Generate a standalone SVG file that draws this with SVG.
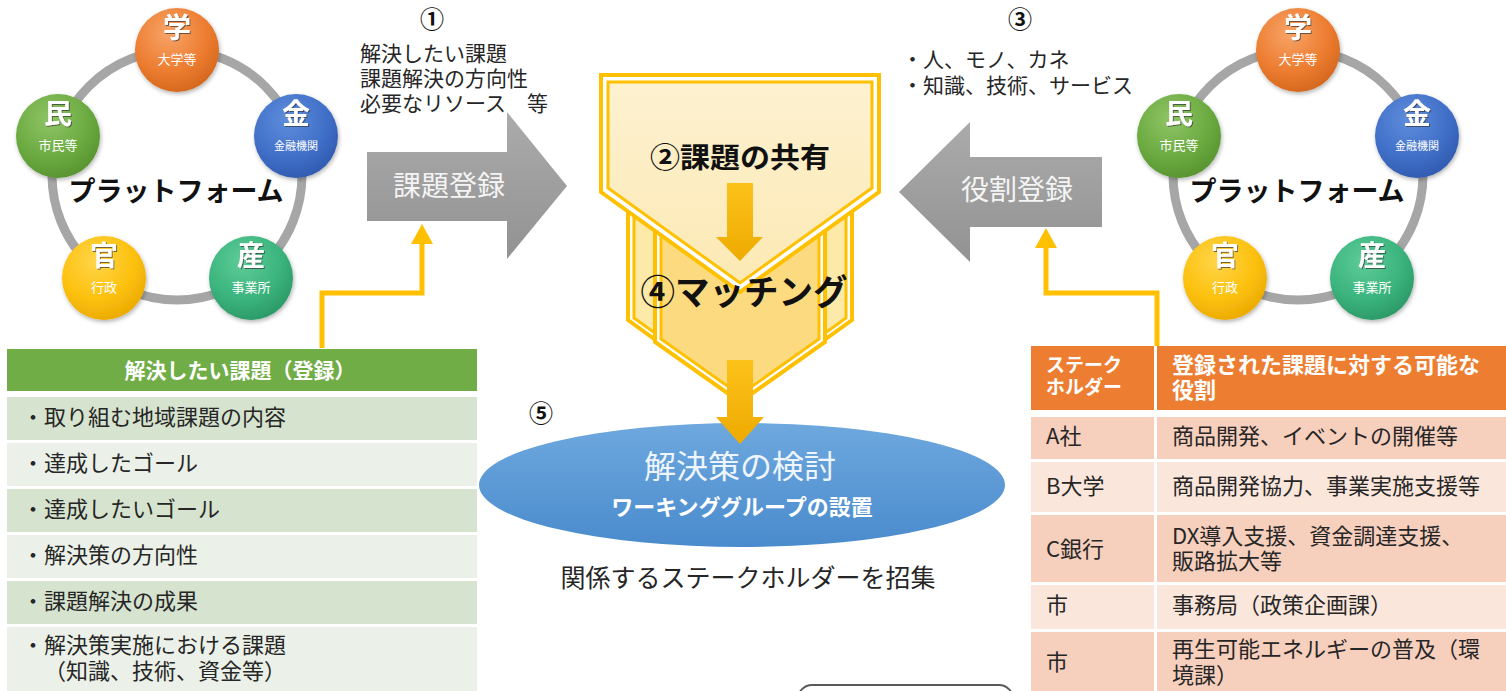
<svg xmlns="http://www.w3.org/2000/svg" width="1506" height="691" viewBox="0 0 1506 691">
<defs>
<style>
text{font-family:"Noto Sans CJK JP","Noto Sans CJK SC",sans-serif;}
.ring{fill:none;stroke:#a6a6a6;stroke-width:9;}
.big{font-size:28px;font-weight:bold;fill:#ffffff;text-anchor:middle;filter:url(#ts);}
.sm{font-size:13px;fill:#ffffff;text-anchor:middle;}
.pf{font-size:27px;font-weight:bold;fill:#111111;text-anchor:middle;}
.note{font-size:21px;fill:#262626;}
.num{font-size:24px;font-weight:bold;fill:#111111;text-anchor:middle;}
.garrow{fill:url(#gg);}
.gtxt{font-size:28px;fill:#f4f4f4;text-anchor:middle;}
.row{font-size:22px;fill:#262626;}
.conn{fill:none;stroke:#ffc000;stroke-width:5;}
.chev-out{fill:#ffffff;stroke:#ffc000;stroke-width:4;stroke-linejoin:miter;}
.chev-in{stroke:#ffc000;stroke-width:3;stroke-linejoin:miter;}
</style>
<radialGradient id="gOr" cx="0.4" cy="0.3" r="0.75"><stop offset="0" stop-color="#f7a468"/><stop offset="0.6" stop-color="#ed7d31"/><stop offset="1" stop-color="#d2661c"/></radialGradient>
<radialGradient id="gGr" cx="0.4" cy="0.3" r="0.75"><stop offset="0" stop-color="#8fc466"/><stop offset="0.6" stop-color="#6cab41"/><stop offset="1" stop-color="#56922f"/></radialGradient>
<radialGradient id="gBl" cx="0.4" cy="0.3" r="0.75"><stop offset="0" stop-color="#5f8ddc"/><stop offset="0.6" stop-color="#4170c8"/><stop offset="1" stop-color="#2f5aae"/></radialGradient>
<radialGradient id="gYe" cx="0.4" cy="0.3" r="0.75"><stop offset="0" stop-color="#ffd54a"/><stop offset="0.6" stop-color="#fcc10e"/><stop offset="1" stop-color="#e9a800"/></radialGradient>
<radialGradient id="gTe" cx="0.4" cy="0.3" r="0.75"><stop offset="0" stop-color="#5fcc98"/><stop offset="0.6" stop-color="#3bb47d"/><stop offset="1" stop-color="#2a9765"/></radialGradient>
<linearGradient id="gg" x1="0" y1="0" x2="0" y2="1"><stop offset="0" stop-color="#ababab"/><stop offset="1" stop-color="#929292"/></linearGradient>
<linearGradient id="gEl" x1="0" y1="0" x2="0" y2="1"><stop offset="0" stop-color="#6ea8de"/><stop offset="1" stop-color="#4a8bcd"/></linearGradient>
<linearGradient id="gAr" x1="0" y1="0" x2="0" y2="1"><stop offset="0" stop-color="#fcc21a"/><stop offset="1" stop-color="#eeaa00"/></linearGradient>
<linearGradient id="gS1" x1="0" y1="0" x2="0" y2="1"><stop offset="0" stop-color="#fdf1d0"/><stop offset="1" stop-color="#fce9b4"/></linearGradient>
<filter id="sh" x="-20%" y="-20%" width="140%" height="140%"><feDropShadow dx="1" dy="2" stdDeviation="2" flood-color="#000" flood-opacity="0.3"/></filter>
<filter id="ts" x="-20%" y="-20%" width="140%" height="140%"><feDropShadow dx="1" dy="1" stdDeviation="0.6" flood-color="#333" flood-opacity="0.7"/></filter>
</defs>

<!-- Left platform -->
<g id="platform-left">
<circle class="ring" cx="177" cy="175" r="125"/>
<circle cx="177" cy="50" r="42" fill="url(#gOr)" filter="url(#sh)"/>
<text class="big" x="177" y="38">学</text><text class="sm" x="177" y="64">大学等</text>
<circle cx="296" cy="136" r="42" fill="url(#gBl)" filter="url(#sh)"/>
<text class="big" x="296" y="124">金</text><text class="sm" x="296" y="150" style="font-size:11px">金融機関</text>
<circle cx="58" cy="136" r="42" fill="url(#gGr)" filter="url(#sh)"/>
<text class="big" x="58" y="124">民</text><text class="sm" x="58" y="150">市民等</text>
<circle cx="104" cy="278" r="42" fill="url(#gYe)" filter="url(#sh)"/>
<text class="big" x="104" y="266">官</text><text class="sm" x="104" y="292">行政</text>
<circle cx="251" cy="278" r="42" fill="url(#gTe)" filter="url(#sh)"/>
<text class="big" x="251" y="266">産</text><text class="sm" x="251" y="292">事業所</text>
<text class="pf" x="176" y="201">プラットフォーム</text>
</g>

<!-- Right platform -->
<g id="platform-right">
<circle class="ring" cx="1298" cy="175" r="125"/>
<circle cx="1298" cy="50" r="42" fill="url(#gOr)" filter="url(#sh)"/>
<text class="big" x="1298" y="38">学</text><text class="sm" x="1298" y="64">大学等</text>
<circle cx="1417" cy="136" r="42" fill="url(#gBl)" filter="url(#sh)"/>
<text class="big" x="1417" y="124">金</text><text class="sm" x="1417" y="150" style="font-size:11px">金融機関</text>
<circle cx="1179" cy="136" r="42" fill="url(#gGr)" filter="url(#sh)"/>
<text class="big" x="1179" y="124">民</text><text class="sm" x="1179" y="150">市民等</text>
<circle cx="1225" cy="278" r="42" fill="url(#gYe)" filter="url(#sh)"/>
<text class="big" x="1225" y="266">官</text><text class="sm" x="1225" y="292">行政</text>
<circle cx="1372" cy="278" r="42" fill="url(#gTe)" filter="url(#sh)"/>
<text class="big" x="1372" y="266">産</text><text class="sm" x="1372" y="292">事業所</text>
<text class="pf" x="1297" y="201">プラットフォーム</text>
</g>

<!-- Step 1 note -->
<g id="note-1">
<text class="num" x="432" y="28">①</text>
<text class="note" x="360" y="61">解決したい課題</text>
<text class="note" x="360" y="86">課題解決の方向性</text>
<text class="note" x="360" y="111">必要なリソース　等</text>
</g>

<!-- Step 3 note -->
<g id="note-3">
<text class="num" x="1020" y="28">③</text>
<text class="note" x="902" y="67">・人、モノ、カネ</text>
<text class="note" x="902" y="93">・知識、技術、サービス</text>
</g>

<!-- Gray arrows -->
<g id="arrow-kadai">
<path class="garrow" d="M367,152 H507 V112 L567,186 L507,259 V221 H367 Z"/>
<text class="gtxt" x="449" y="196">課題登録</text>
</g>
<g id="arrow-yakuwari">
<path class="garrow" d="M1102,157 H970 V122 L899,192 L970,262 V227 H1102 Z"/>
<text class="gtxt" x="1017" y="200">役割登録</text>
</g>

<!-- Center chevrons -->
<g id="chevrons">
<path class="chev-out" d="M628,200 H852 V320 L740,401 L628,320 Z"/>
<path class="chev-in" fill="#fde9a8" d="M634,206 H846 V318 L740,394 L634,318 Z"/>
<path class="chev-out" d="M655,228 H825 V342 L740,402 L655,342 Z"/>
<path class="chev-in" fill="#fcdb80" d="M661,234 H819 V339 L740,395 L661,339 Z"/>
<path class="chev-out" d="M601,75 H879 V192 L740,292 L601,192 Z"/>
<path class="chev-in" fill="url(#gS1)" d="M608,82 H872 V188 L740,283 L608,188 Z"/>
<path fill="url(#gAr)" d="M727,183 H753 V237 H763 L740,261 L716,237 H727 Z"/>
<text x="740" y="168" text-anchor="middle" font-size="28" font-weight="bold" fill="#111" textLength="180" lengthAdjust="spacingAndGlyphs">②課題の共有</text>
<text x="744" y="305" text-anchor="middle" font-size="35" font-weight="bold" fill="#111" textLength="207" lengthAdjust="spacingAndGlyphs">④マッチング</text>
</g>

<!-- Ellipse node -->
<g id="solution">
<ellipse cx="742" cy="485" rx="263" ry="62" fill="url(#gEl)"/>
<text x="740" y="478" text-anchor="middle" font-size="32" fill="#eef5fc">解決策の検討</text>
<text x="742" y="515" text-anchor="middle" font-size="22" font-weight="bold" fill="#ffffff">ワーキンググループの設置</text>
</g>
<text class="num" x="541" y="422">⑤</text>
<text x="748" y="587" text-anchor="middle" font-size="25" fill="#262626">関係するステークホルダーを招集</text>

<!-- Bottom partial box -->
<g id="bottom-box">
<rect x="798" y="685" width="215" height="30" rx="14" fill="#ffffff" stroke="#5a5a5a" stroke-width="2"/>
</g>

<!-- Connectors -->
<g id="connectors">
<path class="conn" d="M322,348 V293 H422 V242"/>
<polygon fill="#ffc000" points="411,244 433,244 422,224"/>
<path class="conn" d="M1157,346 V293 H1046 V246"/>
<polygon fill="#ffc000" points="1035,248 1057,248 1046,228"/>
<path fill="url(#gAr)" d="M727,360 H753 V417 H764 L740,444 L716,417 H727 Z"/>
</g>

<!-- Left table -->
<g id="table-left">
<rect x="7" y="349" width="470" height="42" fill="#70ad47"/>
<text x="240" y="378" text-anchor="middle" font-size="21" font-weight="bold" fill="#ffffff">解決したい課題（登録）</text>
<rect x="7" y="397" width="470" height="43" fill="#d6e3cf"/>
<rect x="7" y="443" width="470" height="43" fill="#ebf1e8"/>
<rect x="7" y="489" width="470" height="43" fill="#d6e3cf"/>
<rect x="7" y="535" width="470" height="43" fill="#ebf1e8"/>
<rect x="7" y="581" width="470" height="43" fill="#d6e3cf"/>
<rect x="7" y="627" width="470" height="64" fill="#ebf1e8"/>
<text class="row" x="22" y="425">・取り組む地域課題の内容</text>
<text class="row" x="22" y="471">・達成したゴール</text>
<text class="row" x="22" y="517">・達成したいゴール</text>
<text class="row" x="22" y="563">・解決策の方向性</text>
<text class="row" x="22" y="609">・課題解決の成果</text>
<text class="row" x="22" y="653">・解決策実施における課題</text>
<text class="row" x="44" y="679">（知識、技術、資金等）</text>
</g>

<!-- Right table -->
<g id="table-right">
<rect x="1031" y="346" width="475" height="64" fill="#ed7d31"/>
<rect x="1031" y="417" width="475" height="42" fill="#f7cfbd"/>
<rect x="1031" y="462" width="475" height="50" fill="#fbe6dc"/>
<rect x="1031" y="515" width="475" height="67" fill="#f7cfbd"/>
<rect x="1031" y="585" width="475" height="44" fill="#fbe6dc"/>
<rect x="1031" y="632" width="475" height="59" fill="#f7cfbd"/>
<rect x="1154" y="346" width="3" height="345" fill="#ffffff"/>
<text x="1046" y="372" font-size="19" font-weight="bold" fill="#ffffff">ステーク</text>
<text x="1046" y="394" font-size="19" font-weight="bold" fill="#ffffff">ホルダー</text>
<text x="1172" y="373" font-size="22" font-weight="bold" fill="#ffffff">登録された課題に対する可能な</text>
<text x="1172" y="398" font-size="22" font-weight="bold" fill="#ffffff">役割</text>
<text class="row" x="1046" y="444">A社</text>
<text class="row" x="1172" y="444">商品開発、イベントの開催等</text>
<text class="row" x="1046" y="494">B大学</text>
<text class="row" x="1172" y="494">商品開発協力、事業実施支援等</text>
<text class="row" x="1046" y="557">C銀行</text>
<text class="row" x="1172" y="544">DX導入支援、資金調達支援、</text>
<text class="row" x="1172" y="569">販路拡大等</text>
<text class="row" x="1046" y="613">市</text>
<text class="row" x="1172" y="613">事務局（政策企画課）</text>
<text class="row" x="1046" y="670">市</text>
<text class="row" x="1172" y="657">再生可能エネルギーの普及（環</text>
<text class="row" x="1172" y="683">境課）</text>
</g>
</svg>
